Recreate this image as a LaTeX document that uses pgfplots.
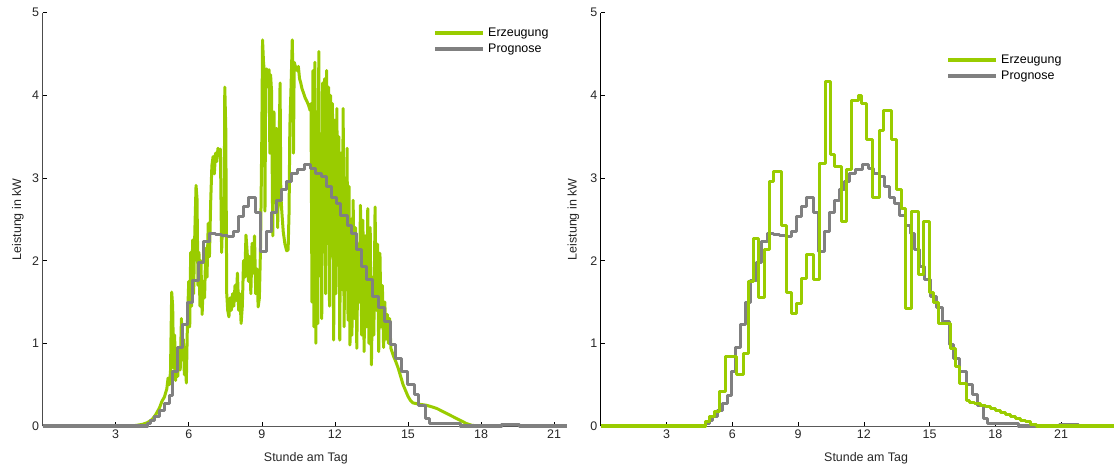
\documentclass[border=0pt]{standalone}
\usepackage{fontspec}
\setmainfont{Liberation Sans}
\usepackage{pgfplots}
\usepackage{pgfplotstable}
\pgfplotsset{compat=1.18}
\definecolor{erz}{RGB}{153,204,0}
\definecolor{prog}{RGB}{128,128,128}

% Prognose, step values (hour, kW)
\pgfplotstableread{
h v
0 0
4.30 0.03
4.45 0.07
4.60 0.11
4.80 0.19
5.00 0.27
5.20 0.37
5.35 0.66
5.55 0.95
5.75 1.23
5.95 1.50
6.15 1.76
6.40 1.98
6.60 2.23
6.85 2.33
7.10 2.32
7.35 2.31
7.60 2.29
7.85 2.35
8.05 2.53
8.25 2.65
8.45 2.77
8.75 2.58
8.95 2.11
9.20 2.35
9.40 2.58
9.60 2.73
9.80 2.86
10.00 2.96
10.20 3.06
10.45 3.10
10.75 3.16
11.00 3.12
11.20 3.06
11.45 3.02
11.65 2.90
11.85 2.77
12.05 2.69
12.25 2.55
12.50 2.43
12.70 2.33
12.90 2.14
13.10 1.93
13.30 1.77
13.55 1.57
13.80 1.43
14.05 1.27
14.30 0.98
14.50 0.82
14.75 0.66
15.00 0.50
15.25 0.38
15.45 0.25
15.70 0.09
15.90 0.03
17.15 0.00
18.85 0.02
19.60 0.00
21.53 0.00
}\prognose

% Erzeugung, fine resolution
\pgfplotstableread{
h v
3.65 0
3.90 0.01
4.10 0.02
4.30 0.04
4.50 0.08
4.65 0.14
4.80 0.22
4.90 0.30
5.00 0.35
5.10 0.45
5.15 0.58
5.20 0.50
5.25 0.65
5.30 1.62
5.34 1.45
5.38 0.70
5.42 1.10
5.46 0.55
5.50 0.75
5.55 0.60
5.60 0.95
5.65 0.68
5.70 1.30
5.74 0.80
5.78 1.05
5.82 0.62
5.86 0.95
5.90 0.52
5.95 1.30
6.00 1.75
6.04 1.20
6.08 2.10
6.12 1.45
6.16 2.25
6.20 1.60
6.25 2.35
6.30 2.91
6.34 2.75
6.38 1.70
6.42 2.10
6.46 1.45
6.50 2.00
6.55 1.35
6.60 1.75
6.65 1.55
6.70 2.15
6.75 1.80
6.80 2.45
6.85 2.05
6.90 2.70
6.95 3.15
7.00 3.26
7.05 3.05
7.10 3.30
7.15 3.20
7.20 3.36
7.25 3.28
7.30 3.35
7.35 2.10
7.40 2.60
7.45 2.30
7.48 4.10
7.52 3.60
7.56 1.60
7.60 1.40
7.65 1.32
7.70 1.55
7.75 1.40
7.80 1.60
7.85 1.45
7.90 1.70
7.95 1.52
8.00 1.85
8.05 1.40
8.10 1.60
8.15 1.24
8.20 1.45
8.25 2.00
8.30 1.80
8.35 2.31
8.40 2.10
8.45 1.75
8.50 2.05
8.55 1.60
8.60 2.21
8.65 1.85
8.70 2.30
8.75 1.60
8.80 1.90
8.85 1.44
8.90 1.55
8.95 2.20
9.00 3.50
9.03 4.67
9.07 4.40
9.10 4.30
9.13 2.60
9.16 4.20
9.20 4.32
9.25 4.10
9.30 4.31
9.33 3.30
9.36 4.25
9.40 4.05
9.45 2.30
9.50 3.80
9.55 2.70
9.60 3.60
9.65 2.40
9.70 3.20
9.75 4.15
9.78 2.80
9.82 2.60
9.88 2.35
9.95 2.20
10.02 2.12
10.08 2.13
10.12 2.60
10.15 3.60
10.20 4.10
10.25 4.67
10.28 4.20
10.30 3.30
10.33 4.40
10.38 4.35
10.45 4.30
10.50 4.35
10.55 4.20
10.60 4.15
10.65 4.08
10.70 4.04
10.78 3.97
10.85 3.93
10.92 3.88
10.98 3.82
11.02 3.90
11.06 1.50
11.10 4.30
11.14 1.20
11.18 4.40
11.22 1.00
11.26 3.80
11.30 1.24
11.34 4.53
11.38 2.09
11.42 3.40
11.46 1.30
11.50 4.15
11.54 2.50
11.58 4.20
11.62 1.60
11.66 4.30
11.70 2.21
11.74 4.10
11.78 1.45
11.82 4.00
11.86 2.80
11.90 3.90
11.95 1.04
12.00 3.70
12.04 1.60
12.08 3.84
12.12 2.30
12.16 3.50
12.20 1.04
12.25 3.30
12.30 1.65
12.34 3.84
12.38 1.20
12.42 3.00
12.46 1.65
12.50 3.36
12.54 1.28
12.58 2.90
12.62 0.98
12.66 2.50
12.70 1.10
12.75 2.73
12.80 1.30
12.85 2.40
12.90 0.94
12.95 2.20
13.00 1.50
13.05 2.67
13.10 1.10
13.15 2.49
13.20 0.90
13.25 2.30
13.30 1.20
13.35 2.63
13.40 1.00
13.45 2.40
13.50 0.74
13.55 1.80
13.60 1.10
13.65 2.65
13.70 1.40
13.75 2.20
13.80 0.90
13.85 2.09
13.90 1.20
13.95 1.70
14.00 0.95
14.05 1.50
14.10 1.05
14.15 1.35
14.20 1.00
14.25 1.30
14.30 0.94
14.40 0.85
14.50 0.78
14.60 0.70
14.70 0.60
14.80 0.50
14.90 0.43
15.00 0.36
15.10 0.31
15.20 0.28
15.35 0.27
15.55 0.26
15.77 0.25
16.00 0.23
16.20 0.21
16.40 0.18
16.60 0.15
16.80 0.12
17.00 0.09
17.20 0.06
17.40 0.03
17.60 0.01
17.85 0.00
}\erzfein

% Erzeugung, step values of the right chart
\pgfplotstableread{
h v
0 0
4.76 0.05
4.98 0.11
5.21 0.17
5.44 0.42
5.67 0.84
6.20 0.62
6.50 0.88
6.73 1.75
6.96 2.27
7.19 1.56
7.49 2.13
7.72 2.96
7.87 3.08
8.25 2.43
8.48 1.62
8.71 1.36
8.94 1.48
9.17 1.79
9.39 2.07
9.70 1.77
9.97 3.18
10.23 4.17
10.46 3.28
10.68 3.14
10.99 2.47
11.22 3.10
11.45 3.94
11.75 4.00
11.90 3.90
12.13 3.46
12.40 2.77
12.70 3.58
12.89 3.82
13.27 3.46
13.50 2.86
13.73 2.63
13.88 1.42
14.18 2.59
14.48 1.83
14.71 2.47
14.98 1.62
15.17 1.50
15.39 1.24
15.93 0.94
16.16 0.72
16.38 0.52
16.69 0.31
16.84 0.29
17.07 0.27
17.30 0.25
17.53 0.23
17.76 0.21
17.99 0.19
18.22 0.16
18.45 0.14
18.68 0.12
18.91 0.09
19.14 0.07
19.37 0.05
19.60 0.02
19.88 0.00
23.80 0.00
}\erzstufen

\pgfplotsset{
  pv/.style={
    scale only axis, height=413.3bp, clip=false,
    ymin=0, ymax=5, ytick={0,1,...,5}, xtick={3,6,...,21},
    axis x line*=bottom, axis y line*=left,
    tick align=inside, major tick length=4bp,
    tick style={black, line width=0.6bp},
    x axis line style={black!65, line width=1bp},
    y axis line style={black!70, line width=0.8bp},
    tick label style={font=\fontsize{12.5}{14}\selectfont, text=black!85},
    label style={font=\fontsize{12.5}{14}\selectfont, text=black!85},
    /pgf/number format/assume math mode=true,
    xlabel={Stunde am Tag}, ylabel={Leistung in kW},
    legend style={draw=none, fill=none, inner sep=0pt,
      font=\fontsize{12.5}{14}\selectfont, anchor=north west,
      cells={anchor=west}, row sep=4bp, column sep=2bp,
      nodes={inner sep=1bp}},
    legend image code/.code={\draw[#1, line width=4bp] (0bp,0bp) -- (48bp,0bp);},
    every axis plot/.append style={line width=3bp, line join=round},
  }
}

\begin{document}
\begin{tikzpicture}
\useasboundingbox (0,0) rectangle (1114bp,466bp);

% links: Minutenwerte
\begin{axis}[pv, at={(42.6bp,40bp)}, anchor=south west,
  width=524.4bp, xmin=0, xmax=21.53,
  xlabel style={at={(axis description cs:0.502,-0.0774)}, anchor=center},
  ylabel style={at={(axis description cs:-0.047,0.5)}, anchor=center},
  legend style={at={(axis description cs:0.7445,0.9654)}}]
  \addplot[erz] table[x=h, y=v] {\erzfein};
  \addplot[prog, const plot] table[x=h, y=v] {\prognose};
  \legend{Erzeugung, Prognose}
\end{axis}

% rechts: Viertelstundenwerte
\begin{axis}[pv, at={(600.7bp,40bp)}, anchor=south west,
  width=513.3bp, xmin=0, xmax=23.41,
  y axis line style={black, line width=0.8bp},
  xlabel style={at={(axis description cs:0.517,-0.0774)}, anchor=center},
  ylabel style={at={(axis description cs:-0.0534,0.5)}, anchor=center},
  legend style={at={(axis description cs:0.6727,0.900)}}, reverse legend]
  \addplot[prog, const plot] table[x expr=1.1108*\thisrow{h}, y=v] {\prognose};
  \addplot[erz, const plot] table[x=h, y=v] {\erzstufen};
  \legend{Prognose, Erzeugung}
\end{axis}
\end{tikzpicture}
\end{document}
